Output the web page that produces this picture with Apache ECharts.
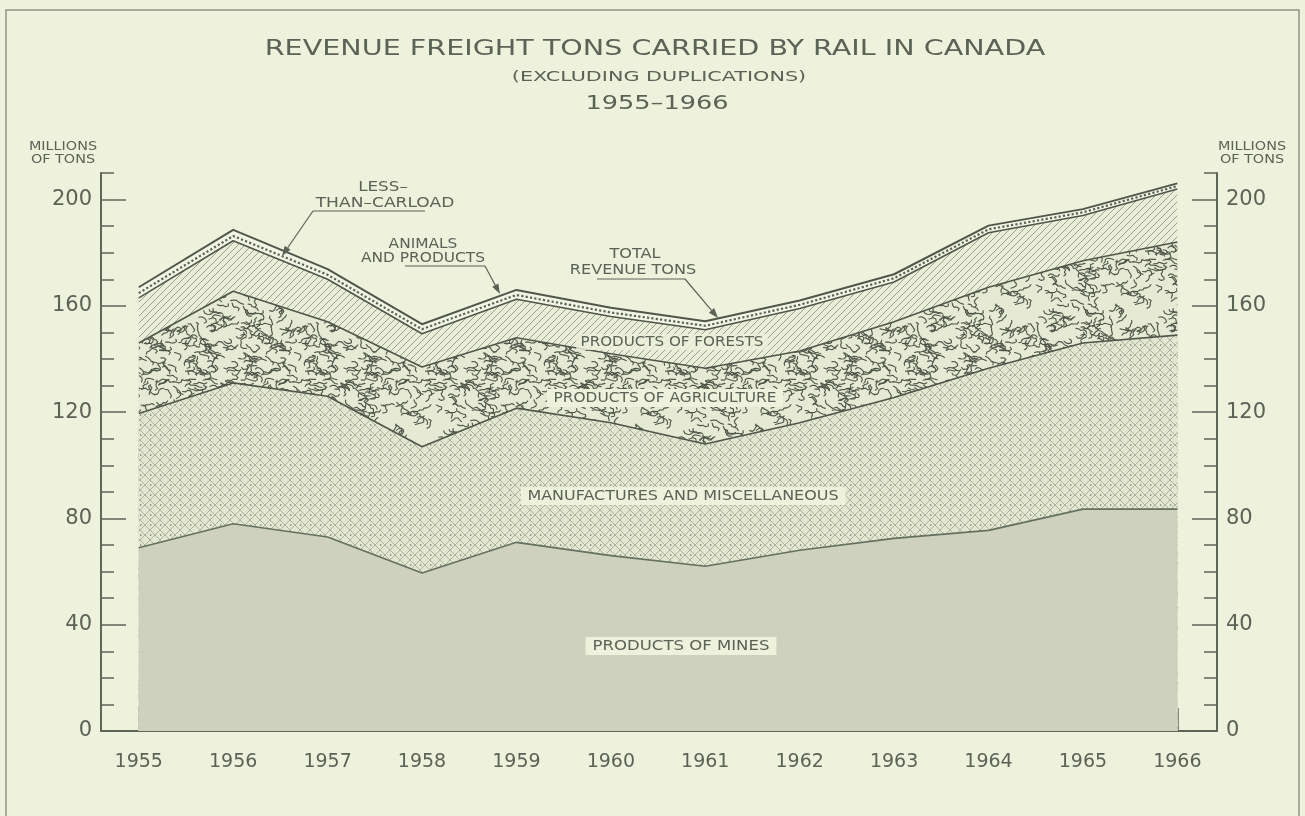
<!DOCTYPE html>
<html>
<head>
<meta charset="utf-8">
<title>Revenue freight tons carried by rail in Canada</title>
<script src="https://cdn.jsdelivr.net/npm/echarts@6/dist/echarts.min.js"></script>
<style>
html, body { margin: 0; padding: 0; background: #eef1dc; }
#main { width: 1305px; height: 816px; }
</style>
</head>
<body>
<div id="main"></div>
<script>
// millions of tons
var years = [1955, 1956, 1957, 1958, 1959, 1960, 1961, 1962, 1963, 1964, 1965, 1966];
var mines = [69, 78, 73, 59.5, 71, 66, 62, 68, 72.5, 75.5, 83.5, 83.5];
var manufactures = [50.5, 53, 53, 47.5, 50.5, 50, 46, 48, 53, 61, 62.5, 65.5];
var agriculture = [26.5, 34.5, 28, 30, 26.5, 26, 28.5, 27, 28.5, 30.5, 31, 35];
var forests = [17, 19, 16, 12.5, 14.5, 14, 14.5, 16, 15, 20.5, 17, 20];
var animals = [1.8, 1.8, 1.7, 1.7, 1.6, 1.5, 1.5, 1.4, 1.4, 1.3, 1.2, 1.1];
var lessCarload = [2.2, 2.3, 2.1, 1.9, 1.9, 1.8, 1.7, 1.6, 1.5, 1.4, 1.2, 1.0];
var majorTicks = [0, 40, 80, 120, 160, 200];
var minorTicks = [10, 20, 30, 50, 60, 70, 90, 100, 110, 130, 140, 150, 170, 180, 190, 210];

var ink = '#5b6256';
var font = '"DejaVu Sans", "Liberation Sans", sans-serif';

function pattern(w, h, draw) {
    var c = document.createElement('canvas');
    c.width = w; c.height = h;
    draw(c.getContext('2d'), w, h);
    return c;
}

// cross hatch with dots (manufactures)
var crossPat = pattern(10, 10, function (g, w, h) {
    g.fillStyle = '#e3e6d0'; g.fillRect(0, 0, w, h);
    g.strokeStyle = 'rgba(95,102,88,0.5)'; g.lineWidth = 0.8;
    g.beginPath();
    g.moveTo(0, 0); g.lineTo(w, h);
    g.moveTo(0, h); g.lineTo(w, 0);
    g.stroke();
    g.fillStyle = '#6e7566';
    g.fillRect(0, 4.4, 1.3, 1.3);
});

// worm texture (agriculture), strokes wrapped so the tile has no seams
var wormPat = pattern(120, 120, function (g, w, h) {
    g.fillStyle = '#e6e9d3'; g.fillRect(0, 0, w, h);
    g.strokeStyle = '#4c5447'; g.lineWidth = 1.1; g.lineCap = 'round'; g.lineJoin = 'round';
    var seed = 17;
    function rnd() { seed = (seed * 9301 + 49297) % 233280; return seed / 233280; }
    for (var k = 0; k < 230; k++) {
        var x = rnd() * w, y = rnd() * h, a = (rnd() - 0.5) * 1.0;
        var pts = [[x, y]];
        for (var s = 0; s < 5; s++) {
            a += (rnd() - 0.5) * 2.6;
            x += Math.cos(a) * 3; y += Math.sin(a) * 2.2;
            pts.push([x, y]);
        }
        for (var ox = -1; ox <= 1; ox++) {
            for (var oy = -1; oy <= 1; oy++) {
                g.beginPath();
                g.moveTo(pts[0][0] + ox * w, pts[0][1] + oy * h);
                for (var p = 1; p < pts.length; p++) g.lineTo(pts[p][0] + ox * w, pts[p][1] + oy * h);
                g.stroke();
            }
        }
    }
});

// diagonal hatch (forests)
var hatchPat = pattern(7, 7, function (g, w, h) {
    g.fillStyle = '#eaedd7'; g.fillRect(0, 0, w, h);
    g.strokeStyle = '#868d7e'; g.lineWidth = 0.8;
    g.beginPath();
    g.moveTo(0, h); g.lineTo(w, 0);
    g.moveTo(-1, 1); g.lineTo(1, -1);
    g.moveTo(w - 1, h + 1); g.lineTo(w + 1, h - 1);
    g.stroke();
});

// layers bottom to top; each one is drawn as the running total, lower ones painted over upper ones
var layers = [
    { name: 'Products of Mines', vals: mines, fill: '#cdd1bd', line: { color: '#667060', width: 1.6 } },
    { name: 'Manufactures and Miscellaneous', vals: manufactures, fill: { image: crossPat, repeat: 'repeat' }, line: { color: '#4f574a', width: 1.6 } },
    { name: 'Products of Agriculture', vals: agriculture, fill: { image: wormPat, repeat: 'repeat' }, line: { color: '#4f574a', width: 1.6 } },
    { name: 'Products of Forests', vals: forests, fill: { image: hatchPat, repeat: 'repeat' }, line: { color: '#4f574a', width: 1.6 } },
    { name: 'Animals and Products', vals: animals, fill: '#f2f4e4', line: { color: '#5a6255', width: 2.2, type: 'dotted' } },
    { name: 'Less-than-carload', vals: lessCarload, fill: '#f2f4e4', line: { color: '#4f574a', width: 2 } }
];

var running = years.map(function () { return 0; });
var series = layers.map(function (l, idx) {
    running = running.map(function (v, i) { return v + l.vals[i]; });
    return {
        name: l.name,
        type: 'line',
        data: years.map(function (y, i) { return [y, +running[i].toFixed(2)]; }),
        symbol: 'none',
        z: 20 - idx,
        lineStyle: l.line,
        areaStyle: { color: l.fill, opacity: 1 },
        emphasis: { disabled: true }
    };
});

function arrow(x1, y1, x2, y2) {
    var a = Math.atan2(y2 - y1, x2 - x1), L = 10, W = 3.5;
    var bx = x2 - Math.cos(a) * L, by = y2 - Math.sin(a) * L;
    return [
        { type: 'line', z: 50, shape: { x1: x1, y1: y1, x2: bx, y2: by }, style: { stroke: ink, lineWidth: 1.2 } },
        { type: 'polygon', z: 50, shape: { points: [[x2, y2],
            [bx + Math.sin(a) * W, by - Math.cos(a) * W],
            [bx - Math.sin(a) * W, by + Math.cos(a) * W]] }, style: { fill: ink } }
    ];
}

function txt(text, x, y, size, sx, extra) {
    var st = { text: text, x: 0, y: 0, fill: ink, font: size + 'px ' + font, align: 'center', verticalAlign: 'middle' };
    for (var k in extra) st[k] = extra[k];
    return { type: 'text', z: 50, x: x, y: y, scaleX: sx, style: st };
}

var boxBg = { backgroundColor: '#eef1dc', padding: [2, 6] };

var graphics = [
    { type: 'rect', shape: { x: 6, y: 10, width: 1293, height: 820 }, style: { fill: 'none', stroke: '#8f9587', lineWidth: 1.5 } },
    txt('REVENUE FREIGHT TONS CARRIED BY RAIL IN CANADA', 655, 49, 22, 1.3),
    txt('(EXCLUDING DUPLICATIONS)', 659, 77, 14, 1.48),
    txt('1955–1966', 657, 104, 20, 1.28),
    txt('MILLIONS', 63, 147, 12, 1.2),
    txt('OF TONS', 63, 160, 12, 1.2),
    txt('MILLIONS', 1252, 147, 12, 1.2),
    txt('OF TONS', 1252, 160, 12, 1.2),
    txt('PRODUCTS OF MINES', 681, 646, 14, 1.18, boxBg),
    txt('MANUFACTURES AND MISCELLANEOUS', 683, 496, 14, 1.14, boxBg),
    txt('PRODUCTS OF AGRICULTURE', 665, 398, 14, 1.1, boxBg),
    txt('PRODUCTS OF FORESTS', 672, 342, 14, 1.08, { backgroundColor: 'rgba(238,241,220,0.8)', padding: [1, 4] }),
    txt('LESS–', 383, 187, 14, 1.2),
    txt('THAN–CARLOAD', 385, 203, 14, 1.22),
    txt('ANIMALS', 423, 244, 14, 1.1),
    txt('AND PRODUCTS', 423, 258, 14, 1.1),
    txt('TOTAL', 635, 254, 14, 1.15),
    txt('REVENUE TONS', 633, 270, 14, 1.15),
    { type: 'polyline', z: 50, shape: { points: [[425, 211], [313, 211]] }, style: { stroke: ink, lineWidth: 1.2, fill: null } },
    { type: 'polyline', z: 50, shape: { points: [[405, 266], [485, 266]] }, style: { stroke: ink, lineWidth: 1.2, fill: null } },
    { type: 'polyline', z: 50, shape: { points: [[597, 279], [685, 279]] }, style: { stroke: ink, lineWidth: 1.2, fill: null } }
].concat(arrow(313, 211, 282, 256), arrow(485, 266, 500, 294), arrow(685, 279, 718, 318));

var axisLineStyle = { color: '#5e665a', width: 2 };

function yAx(pos, major) {
    return {
        type: 'value', min: 0, max: 210, position: pos,
        axisLine: { show: major, lineStyle: axisLineStyle },
        axisTick: { show: true, inside: true, length: major ? 25 : 13, customValues: major ? majorTicks : minorTicks,
            lineStyle: { color: '#5e665a', width: 1.5 } },
        axisLabel: major ? { show: true, customValues: majorTicks, margin: 9, color: ink,
            fontSize: 21, fontFamily: font } : { show: false },
        splitLine: { show: false }
    };
}

var chart = echarts.init(document.getElementById('main'), null, { renderer: 'canvas' });
chart.setOption({
    animation: false,
    backgroundColor: '#eef1dc',
    grid: { left: 101, right: 88, top: 173, bottom: 85, containLabel: false, outerBoundsMode: 'none' },
    xAxis: {
        type: 'value', min: 1954.6, max: 1966.42,
        axisLine: { lineStyle: axisLineStyle },
        axisTick: { inside: true, length: 23, customValues: years, lineStyle: { color: '#5e665a', width: 1.5 } },
        axisLabel: { customValues: years, margin: 22, color: ink, fontSize: 19, fontFamily: font,
            formatter: function (v) { return String(v); } },
        splitLine: { show: false }
    },
    yAxis: [yAx('left', true), yAx('left', false), yAx('right', true), yAx('right', false)],
    series: series,
    graphic: graphics
});
</script>
</body>
</html>
